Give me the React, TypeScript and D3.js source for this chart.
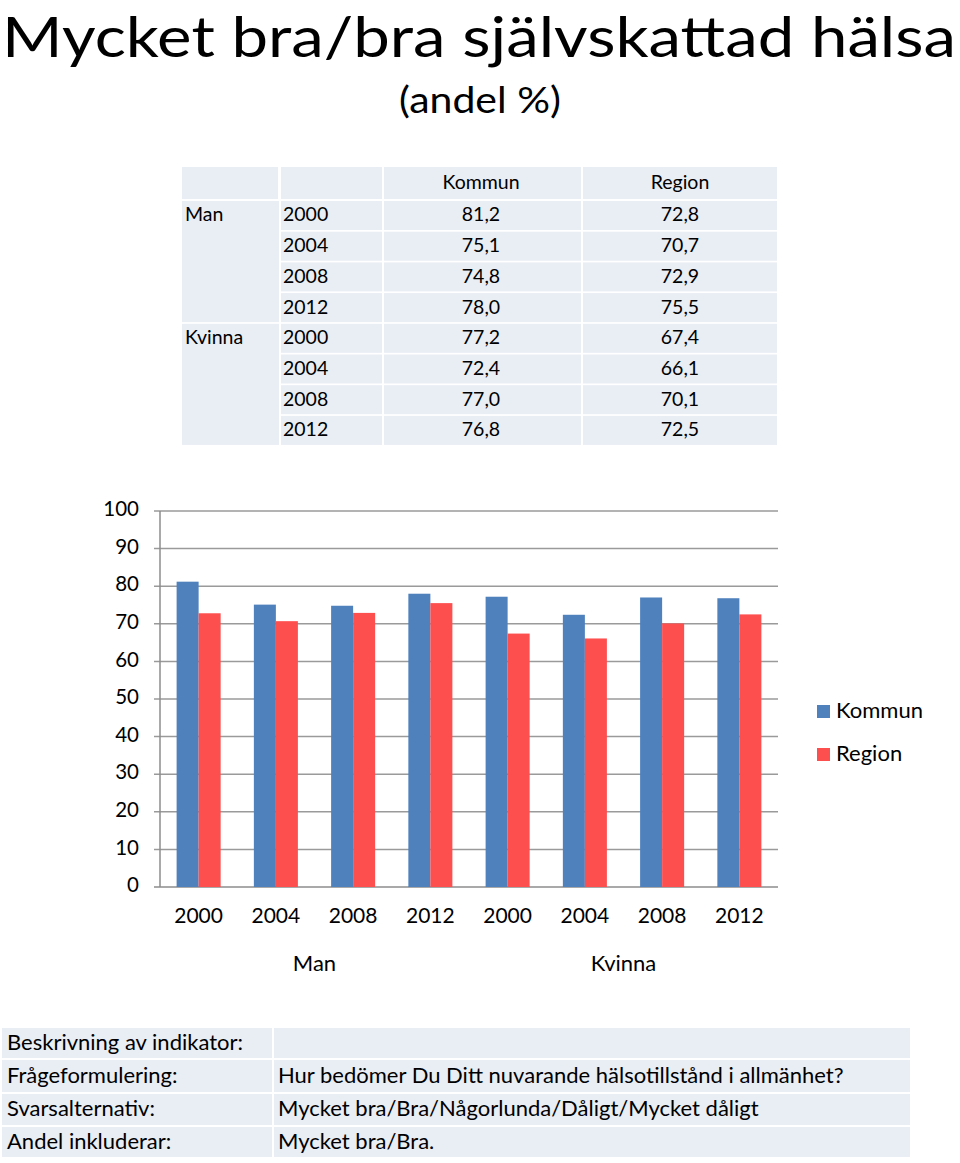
import React from "react";
import * as d3 from "d3";

const TITLE = "Mycket bra/bra självskattad hälsa";
const SUBTITLE = "(andel %)";
const groups = ["Man", "Kvinna"];
const years = ["2000", "2004", "2008", "2012"];
const seriesNames = ["Kommun", "Region"];
const kommun = [81.2, 75.1, 74.8, 78.0, 77.2, 72.4, 77.0, 76.8];
const region = [72.8, 70.7, 72.9, 75.5, 67.4, 66.1, 70.1, 72.5];
const yTicks = [0, 10, 20, 30, 40, 50, 60, 70, 80, 90, 100];
const infoLabels = ["Beskrivning av indikator:", "Frågeformulering:", "Svarsalternativ:", "Andel inkluderar:"];
const infoValues = ["", "Hur bedömer Du Ditt nuvarande hälsotillstånd i allmänhet?", "Mycket bra/Bra/Någorlunda/Dåligt/Mycket dåligt", "Mycket bra/Bra."];

const FONT = "Lato, 'Open Sans', sans-serif";
const BLUE = "#4f81bd";
const RED = "#fe4f4f";
const CELL = "#e9edf4";
const fmt = (v: number) => v.toFixed(1).replace(".", ",");

export default function App() {
  const cats = groups.flatMap((g) => years.map((y) => `${g}-${y}`));
  const x = d3.scaleBand<string>().domain(cats).range([160, 778]).paddingInner(0.43).paddingOuter(0.215);
  const xs = d3.scaleBand<string>().domain(seriesNames).range([0, x.bandwidth()]);
  const y = d3.scaleLinear().domain([0, 100]).range([887, 511]);
  const step = x.step();
  const colors = [BLUE, RED];
  const series = [kommun, region];

  const colX = [182, 280, 383, 582, 778];
  const headTop = 167, headH = 32;
  const rowTop = 201, rowPitch = 30.7, rowH = 29;
  const TF = 19.5;

  const infoRows = [1028, 1060, 1094, 1127];
  const infoH = [30, 32, 31, 30];

  return (
    <svg width={960} height={1163} style={{ position: "absolute", left: 0, top: 0, background: "#fff" }} fontFamily={FONT}>
      <text x={2} y={57} fontSize={57} textLength={954} lengthAdjust="spacingAndGlyphs" fill="#000">{TITLE}</text>
      <text x={480} y={113} fontSize={36} textAnchor="middle" textLength={162} lengthAdjust="spacingAndGlyphs" fill="#000">{SUBTITLE}</text>

      <g>
        {[0, 1, 2, 3].map((c) => (
          <rect key={"h" + c} x={colX[c] + (c ? 1 : 0)} y={headTop} width={colX[c + 1] - colX[c] - 2} height={headH} fill={CELL} />
        ))}
        <text x={481} y={headTop + headH / 2 + 1} fontSize={TF} textAnchor="middle" dominantBaseline="middle">{seriesNames[0]}</text>
        <text x={680} y={headTop + headH / 2 + 1} fontSize={TF} textAnchor="middle" dominantBaseline="middle">{seriesNames[1]}</text>
        {groups.map((g, gi) => {
          const top = rowTop + gi * 4 * rowPitch;
          const h = 3 * rowPitch + rowH;
          return (
            <g key={g}>
              <rect x={colX[0]} y={top} width={colX[1] - colX[0] - 1} height={h} fill={CELL} />
              <text x={185} y={top + rowH / 2 + 1} fontSize={TF} dominantBaseline="middle">{g}</text>
            </g>
          );
        })}
        {cats.map((c, i) => {
          const top = rowTop + i * rowPitch;
          const cy = top + rowH / 2 + 1;
          return (
            <g key={c}>
              {[1, 2, 3].map((k) => (
                <rect key={k} x={colX[k] + 1} y={top} width={colX[k + 1] - colX[k] - 2} height={rowH} fill={CELL} />
              ))}
              <text x={283} y={cy} fontSize={TF} dominantBaseline="middle">{years[i % 4]}</text>
              <text x={481} y={cy} fontSize={TF} textAnchor="middle" dominantBaseline="middle">{fmt(kommun[i])}</text>
              <text x={680} y={cy} fontSize={TF} textAnchor="middle" dominantBaseline="middle">{fmt(region[i])}</text>
            </g>
          );
        })}
      </g>

      <g>
        {yTicks.map((t) => (
          <g key={t}>
            <line x1={154} x2={778} y1={y(t)} y2={y(t)} stroke={t === 0 ? "#8c8c8c" : "#9a9a9a"} strokeWidth={1.5} />
            <text x={139} y={y(t)} fontSize={20.5} textAnchor="end" dominantBaseline="middle">{t}</text>
          </g>
        ))}
        <line x1={160} x2={160} y1={511} y2={887} stroke="#8c8c8c" strokeWidth={1.5} />
        {series.map((s, si) =>
          s.map((v, i) => (
            <rect key={si + "-" + i} x={(x(cats[i]) as number) + (xs(seriesNames[si]) as number)} y={y(v)} width={xs.bandwidth()} height={y(0) - y(v)} fill={colors[si]} />
          ))
        )}
        {cats.map((c, i) => (
          <text key={c} x={(x(c) as number) + x.bandwidth() / 2} y={918} fontSize={21} textAnchor="middle" dominantBaseline="middle">{years[i % 4]}</text>
        ))}
        {groups.map((g, gi) => (
          <text key={g} x={160 + step * (gi * 4 + 2)} y={965} fontSize={22} textAnchor="middle" dominantBaseline="middle">{g}</text>
        ))}
        {seriesNames.map((n, i) => (
          <g key={n}>
            <rect x={817} y={705 + i * 43} width={13} height={13} fill={colors[i]} />
            <text x={836} y={712 + i * 43} fontSize={22} dominantBaseline="middle">{n}</text>
          </g>
        ))}
      </g>

      <g>
        {infoLabels.map((l, i) => (
          <g key={l}>
            <rect x={2} y={infoRows[i]} width={270} height={infoH[i]} fill={CELL} />
            <rect x={274} y={infoRows[i]} width={636} height={infoH[i]} fill={CELL} />
            <text x={7} y={infoRows[i] + infoH[i] / 2 + 1} fontSize={22} dominantBaseline="middle">{l}</text>
            <text x={278} y={infoRows[i] + infoH[i] / 2 + 1} fontSize={22} dominantBaseline="middle">{infoValues[i]}</text>
          </g>
        ))}
      </g>
    </svg>
  );
}
